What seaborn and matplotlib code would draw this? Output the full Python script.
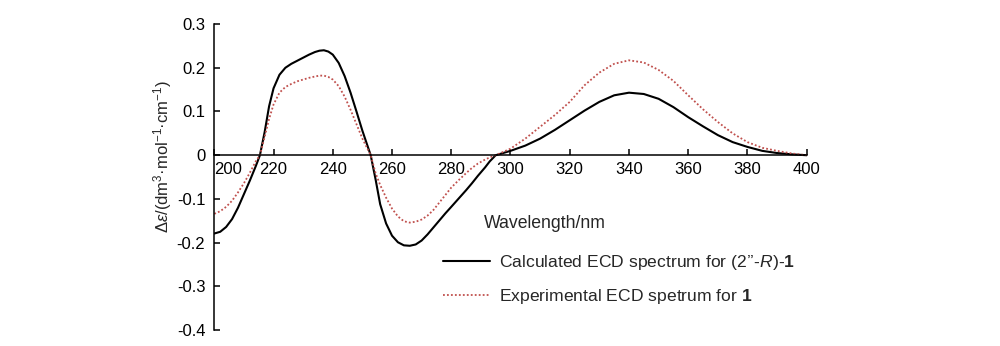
import matplotlib
matplotlib.use("Agg")
import matplotlib.pyplot as plt
import seaborn as sns
import pandas as pd

# ECD spectra (wavelength in nm, delta epsilon)
calc_wavelength = [200, 202, 204, 206, 208, 210, 212, 214, 215.4, 217, 218.5, 220, 222, 224,
                   226, 228, 230, 232, 234, 235.5, 237, 238.5, 240, 242, 244, 246, 248, 250,
                   252.8, 254.5, 256, 258, 260, 262, 264, 266, 268, 270, 272, 274, 276, 278,
                   280, 282.5, 285, 287, 289, 291.4, 293, 295, 300, 305, 310, 315, 320, 325,
                   330, 335, 340, 345, 350, 355, 360, 365, 370, 375, 380, 385, 390, 395, 400]
calc_delta_eps = [-0.179, -0.175, -0.164, -0.146, -0.120, -0.089, -0.058, -0.025, 0.0, 0.053,
                  0.112, 0.153, 0.184, 0.200, 0.209, 0.216, 0.223, 0.230, 0.236, 0.239, 0.240,
                  0.237, 0.230, 0.211, 0.181, 0.143, 0.100, 0.056, 0.0, -0.057, -0.112,
                  -0.156, -0.184, -0.199, -0.206, -0.207, -0.204, -0.195, -0.181, -0.165,
                  -0.149, -0.133, -0.118, -0.099, -0.080, -0.064, -0.047, -0.028, -0.014,
                  0.0, 0.010, 0.022, 0.038, 0.058, 0.080, 0.102, 0.122, 0.137, 0.143, 0.140,
                  0.129, 0.110, 0.087, 0.066, 0.046, 0.030, 0.019, 0.010, 0.005, 0.002, 0.0]

exp_wavelength = [200, 202, 204, 206, 208, 210, 212, 214, 215.4, 217, 218.5, 220, 222, 224,
                  226, 228, 230, 232, 234, 235.5, 237, 238.5, 240, 242, 244, 246, 248, 250,
                  252.8, 254.5, 256, 258, 260, 262, 264, 266, 268, 270, 272, 274, 276, 278,
                  280, 282.5, 285, 287, 289, 291.4, 293, 295, 300, 305, 310, 315, 320, 325,
                  330, 335, 340, 345, 350, 355, 360, 365, 370, 375, 380, 385, 390, 395, 400]
exp_delta_eps = [-0.134, -0.128, -0.118, -0.104, -0.085, -0.064, -0.040, -0.014, 0.0, 0.042,
                 0.083, 0.116, 0.143, 0.156, 0.163, 0.169, 0.173, 0.177, 0.180, 0.182, 0.182,
                 0.179, 0.173, 0.158, 0.134, 0.104, 0.071, 0.038, 0.0, -0.042, -0.068,
                 -0.097, -0.122, -0.140, -0.151, -0.154, -0.152, -0.147, -0.138, -0.125,
                 -0.108, -0.091, -0.074, -0.057, -0.041, -0.029, -0.019, -0.010, -0.005,
                 0.0, 0.015, 0.038, 0.065, 0.092, 0.122, 0.160, 0.189, 0.209, 0.217, 0.212,
                 0.195, 0.170, 0.137, 0.105, 0.076, 0.050, 0.030, 0.017, 0.010, 0.004, 0.0]

x_ticks = [200, 220, 240, 260, 280, 300, 320, 340, 360, 380, 400]
y_ticks = [-0.4, -0.3, -0.2, -0.1, 0, 0.1, 0.2, 0.3]
y_tick_labels = ["-0.4", "-0.3", "-0.2", "-0.1", "0", "0.1", "0.2", "0.3"]

calc_label = r"Calculated ECD spectrum for (2’’-$\mathit{R}$)-$\mathbf{1}$"
exp_label = r"Experimental ECD spetrum for $\mathbf{1}$"

sns.set_style("white")
plt.rcParams["font.family"] = ["Liberation Sans", "DejaVu Sans"]
plt.rcParams["mathtext.fontset"] = "custom"
plt.rcParams["mathtext.rm"] = "Liberation Sans"
plt.rcParams["mathtext.it"] = "Liberation Sans:italic"
plt.rcParams["mathtext.bf"] = "Liberation Sans:bold"
plt.rcParams["axes.unicode_minus"] = False

calc_df = pd.DataFrame({"wavelength": calc_wavelength, "delta_eps": calc_delta_eps})
exp_df = pd.DataFrame({"wavelength": exp_wavelength, "delta_eps": exp_delta_eps})

fig = plt.figure(figsize=(10, 3.46), dpi=100)
ax = fig.add_axes([0.2143, 0.0457, 0.5924, 0.8849])

sns.lineplot(data=calc_df, x="wavelength", y="delta_eps", ax=ax, color="black",
             linewidth=1.5, estimator=None, sort=False, label=calc_label)
sns.lineplot(data=exp_df, x="wavelength", y="delta_eps", ax=ax, color="#c0504d",
             linewidth=1.3, linestyle=(0, (1, 1.2)), estimator=None, sort=False,
             label=exp_label)

ax.set_xlim(200, 400)
ax.set_ylim(-0.4, 0.3)
ax.set_xlabel("")
ax.set_ylabel("")

for side in ("top", "right"):
    ax.spines[side].set_visible(False)
ax.spines["bottom"].set_position(("data", 0))
for side in ("left", "bottom"):
    ax.spines[side].set_color("black")
    ax.spines[side].set_linewidth(1.1)

ax.set_xticks(x_ticks)
ax.set_xticklabels([str(t) for t in x_ticks])
ax.set_yticks(y_ticks)
ax.set_yticklabels(y_tick_labels)
ax.tick_params(axis="both", which="major", direction="in", length=4.2, width=1.1,
               color="black", labelsize=12, labelcolor="black", bottom=True, left=True)
ax.tick_params(axis="x", pad=5)
ax.tick_params(axis="y", pad=6.5)
ax.xaxis.get_major_ticks()[0].label1.set_horizontalalignment("left")

fig.text(0.163, 1 - 156.5 / 346,
         r"$\mathit{Δε}$/(dm$^{3}$·mol$^{-1}$·cm$^{-1}$)",
         rotation=90, ha="center", va="center", fontsize=12)
fig.text(0.545, 1 - 223 / 346, "Wavelength/nm", ha="center", va="center", fontsize=12.7)

ax.legend(loc="upper left", bbox_to_anchor=(0.443, 1 - 253 / 346),
          bbox_transform=fig.transFigure, frameon=False, fontsize=12.6,
          handlelength=2.7, handletextpad=0.5, labelspacing=0.85,
          borderpad=0, borderaxespad=0)

fig.savefig("out.png", dpi=100)
